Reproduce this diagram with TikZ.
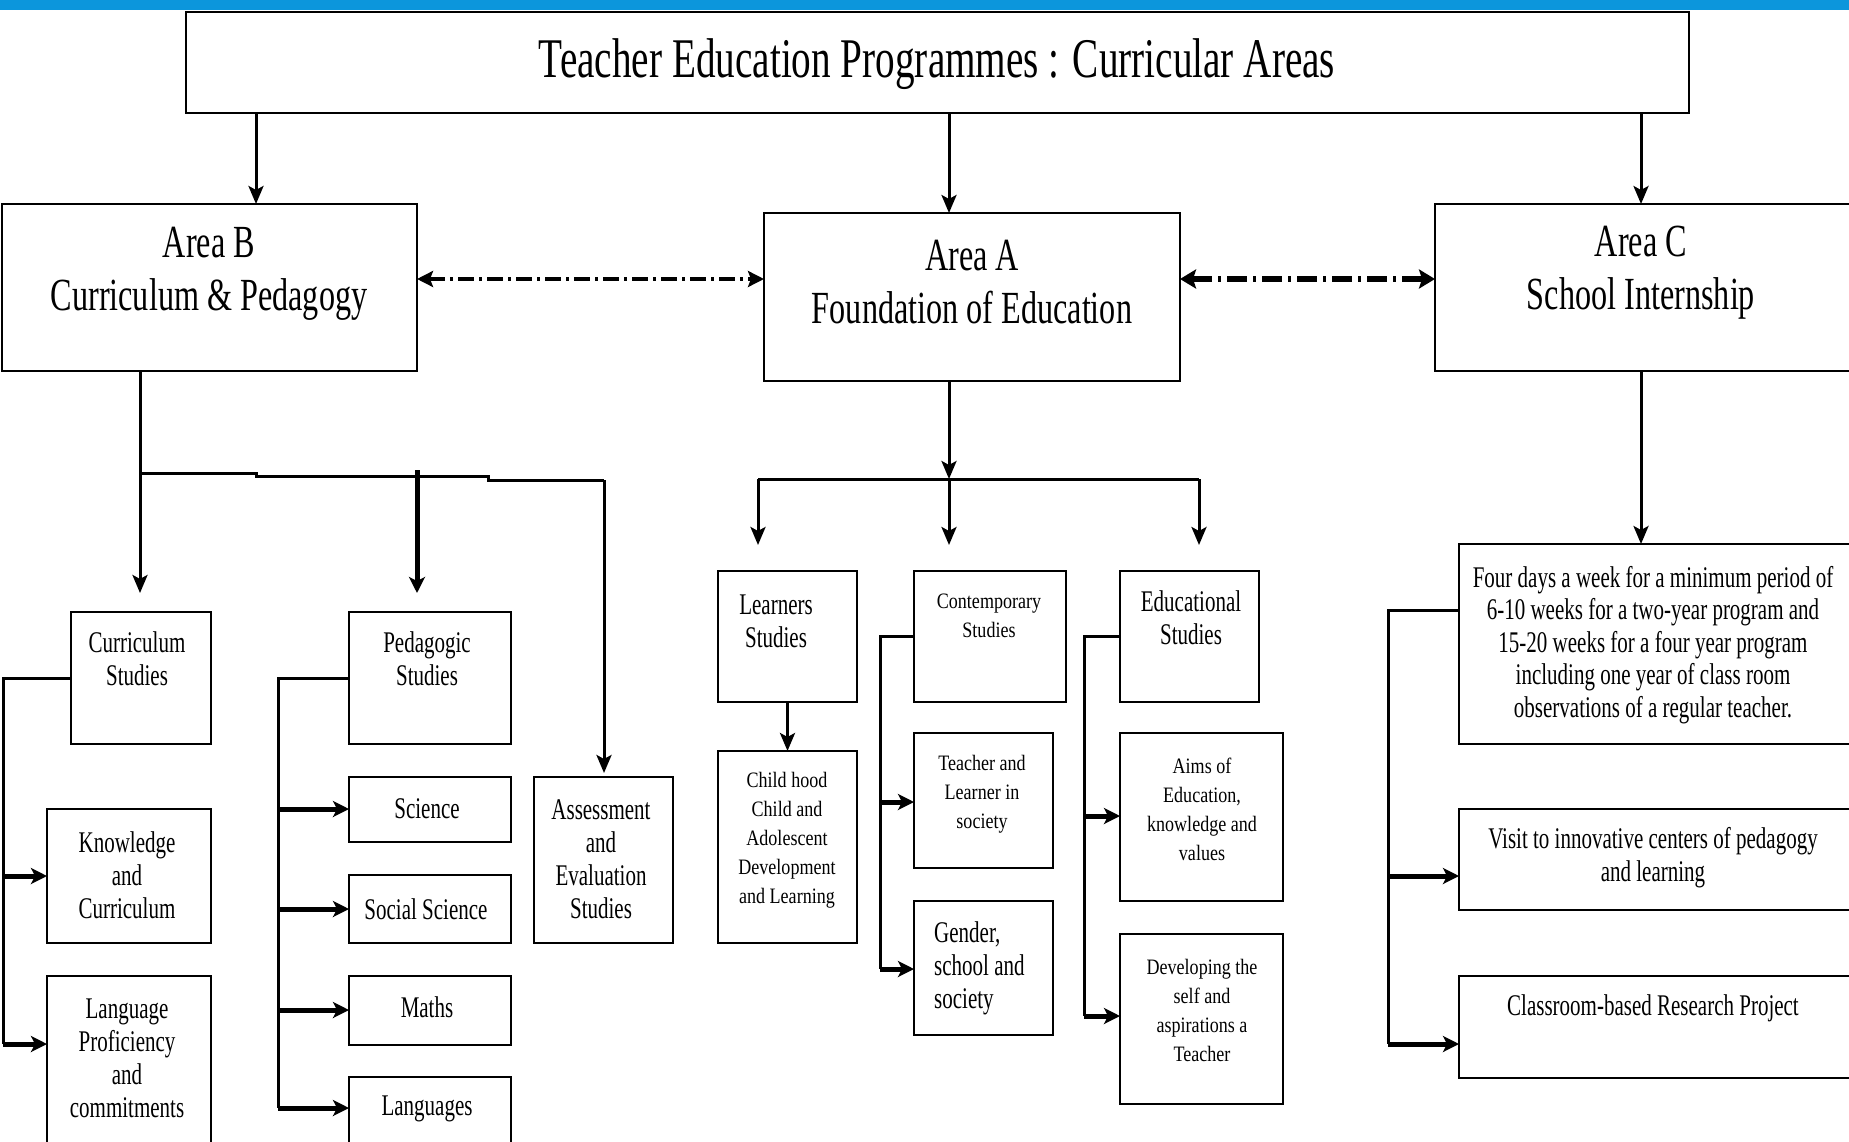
\documentclass[tikz,border=0pt]{standalone}
\usepackage{fontspec}
\setmainfont[FakeStretch=0.7]{Liberation Serif}
\newfontfamily\midf[FakeStretch=0.82]{Liberation Serif}
\usetikzlibrary{arrows.meta}
\definecolor{topblue}{RGB}{12,150,220}
\newcommand\bx[5]{\node[box,minimum width={#4-#2},minimum height={#5-#3}] (#1) at ({(#2+#4)/2},{(#3+#5)/2}) {};}
\begin{document}
\begin{tikzpicture}[x=1pt,y=-1pt,
  box/.style={draw,line width=2.5pt,inner sep=0pt,outer sep=0pt,rectangle,fill=white},
  txt/.style={align=center,inner sep=0pt,font=\fontsize{30}{33}\selectfont},
  mtxt/.style={align=center,inner sep=0pt,font=\midf\fontsize{22}{29}\selectfont},
  atxt/.style={align=center,inner sep=0pt,font=\fontsize{46}{53}\selectfont},
  ln/.style={line width=3pt},
  arr/.style={line width=3pt,-{Stealth[length=18pt,width=15pt,inset=4pt]}},
  tarr/.style={line width=5pt,-{Stealth[length=16pt,width=16pt,inset=4pt]}},
  dda/.style={line width=4pt,dash pattern=on 16pt off 5pt on 3pt off 5pt,
     {Stealth[length=16pt,width=16pt,inset=3pt]}-{Stealth[length=16pt,width=16pt,inset=3pt]}},
  ddb/.style={line width=6pt,dash pattern=on 20pt off 6pt on 3pt off 6pt,
     {Stealth[length=16pt,width=19pt,inset=3pt]}-{Stealth[length=16pt,width=19pt,inset=3pt]}},
]
\useasboundingbox (0,0) rectangle (1849,1142);
\clip (0,0) rectangle (1849,1142);
\fill[white] (0,0) rectangle (1849,1142);
\fill[topblue] (0,0) rectangle (1849,10);

% boxes
\bx{title}{186}{12}{1689}{113}
\bx{areaB}{2}{204}{417}{371}
\bx{areaA}{764}{213}{1180}{381}
\bx{areaC}{1435}{204}{1870}{371}
\bx{curS}{71}{612}{211}{744}
\bx{know}{47}{809}{211}{943}
\bx{lang}{47}{976}{211}{1160}
\bx{pedS}{349}{612}{511}{744}
\bx{sci}{349}{777}{511}{842}
\bx{soc}{349}{875}{511}{943}
\bx{maths}{349}{976}{511}{1045}
\bx{langs}{349}{1077}{511}{1160}
\bx{assess}{534}{777}{673}{943}
\bx{learn}{718}{571}{857}{702}
\bx{child}{718}{751}{857}{943}
\bx{contS}{914}{571}{1066}{702}
\bx{tl}{914}{733}{1053}{868}
\bx{gend}{914}{901}{1053}{1035}
\bx{eduS}{1120}{571}{1259}{702}
\bx{aims}{1120}{733}{1283}{901}
\bx{dev}{1120}{934}{1283}{1104}
\bx{four}{1459}{544}{1870}{744}
\bx{visit}{1459}{809}{1870}{910}
\bx{room}{1459}{976}{1870}{1078}

% texts
\node[inner sep=0pt,font=\fontsize{56}{60}\selectfont] (tTitle) at (937,64) {Teacher Education Programmes : Curricular Areas};
\node[atxt] (tB) at (209,274) {Area B\\Curriculum \& Pedagogy};
\node[atxt] (tA) at (972,282) {Area A\\Foundation of Education};
\node[atxt] (tC) at (1641,273) {Area C\\School Internship};
\node[txt] (tcurS) at (137,659) {Curriculum\\Studies};
\node[txt] (tpedS) at (427,659) {Pedagogic\\Studies};
\node[txt] (tknow) at (127,875) {Knowledge\\and\\Curriculum};
\node[txt] (tlang) at (127,1058) {Language\\Proficiency\\and\\commitments};
\node[txt] (tsci) at (427,809) {Science};
\node[txt] (tsoc) at (426,909) {Social Science};
\node[txt] (tmaths) at (427,1007) {Maths};
\node[txt] (tlangs) at (427,1109) {Languages};
\node[txt] (tassess) at (601,859) {Assessment\\and\\Evaluation\\Studies};
\node[txt] (tlearn) at (776,621) {Learners\\Studies};
\node[mtxt] (tchild) at (787,840) {Child hood\\Child and\\Adolescent\\Development\\and Learning};
\node[mtxt] (tcontS) at (989,616) {Contemporary\\Studies};
\node[txt] (teduS) at (1191,618) {Educational\\Studies};
\node[mtxt] (ttl) at (982,794) {Teacher and\\Learner in\\society};
\node[txt,align=left,anchor=west] (tgend) at (934,968) {Gender,\\school and\\society};
\node[mtxt] (taims) at (1202,809) {Aims of\\Education,\\knowledge and\\values};
\node[mtxt] (tdev) at (1202,1010) {Developing the\\self and\\aspirations a\\Teacher};
\node[txt,font=\fontsize{30}{32.5}\selectfont] (tfour) at (1653,645) {Four days a week for a minimum period of\\6-10 weeks for a two-year program and\\15-20 weeks for a four year program\\including one year of class room\\observations of a regular teacher.};
\node[txt] (tvisit) at (1653,858) {Visit to innovative centers of pedagogy\\and learning};
\node[txt] (troom) at (1653,1008) {Classroom-based Research Project};

% title to areas
\draw[arr] (title.south -| 256,0) -- (areaB.north -| 256,0);
\draw[arr] (title.south -| 949,0) -- (areaA.north -| 949,0);
\draw[arr] (title.south -| 1641,0) -- (areaC.north -| 1641,0);
% relations between areas
\draw[dda] (areaB.east |- 0,279) -- (areaA.west |- 0,279);
\draw[ddb] (areaA.east |- 0,279) -- (areaC.west |- 0,279);

% Area B
\draw[arr,shorten >=19pt] (areaB.south -| 140,0) -- (curS.north -| 140,0);
\coordinate (jB) at (140,473);
\draw[ln] (jB) -- (256,473) -- (256,476) -- (488,476) -- (488,480) -- (604,480);
\draw[arr,shorten >=4pt] (604,480) -- (assess.north -| 604,0);
\draw[tarr,shorten >=19pt] (417,470) -- (pedS.north -| 417,0);
\draw[ln] (curS.west) -| (3,1044);
\draw[tarr] (3,876) -- (know.west |- 0,876);
\draw[tarr] (3,1044) -- (lang.west |- 0,1044);
\draw[ln] (pedS.west) -| (278,1108);
\draw[tarr] (278,809) -- (sci.west |- 0,809);
\draw[tarr] (278,909) -- (soc.west |- 0,909);
\draw[tarr] (278,1010) -- (maths.west |- 0,1010);
\draw[tarr] (278,1108) -- (langs.west |- 0,1108);

% Area A
\draw[arr] (areaA.south -| 949,0) -- (949,479);
\draw[ln] (758,479) -- (1199,479);
\draw[arr,shorten >=26pt] (949,479) -- (contS.north -| 949,0);
\draw[arr,shorten >=26pt] (758,479) -- (learn.north -| 758,0);
\draw[arr,shorten >=26pt] (1199,479) -- (eduS.north -| 1199,0);
\draw[arr] (learn.south) -- (child.north);
\draw[ln] (contS.west) -| (880,969);
\draw[tarr] (880,802) -- (tl.west |- 0,802);
\draw[tarr] (880,969) -- (gend.west |- 0,969);
\draw[ln] (eduS.west) -| (1084,1016);
\draw[tarr] (1084,816) -- (aims.west |- 0,816);
\draw[tarr] (1084,1016) -- (dev.west |- 0,1016);

% Area C
\draw[arr] (areaC.south -| 1641,0) -- (four.north -| 1641,0);
\draw[ln] (four.west |- 0,610) -| (1388,1044);
\draw[tarr] (1388,876) -- (visit.west |- 0,876);
\draw[tarr] (1388,1044) -- (room.west |- 0,1044);
\end{tikzpicture}
\end{document}
